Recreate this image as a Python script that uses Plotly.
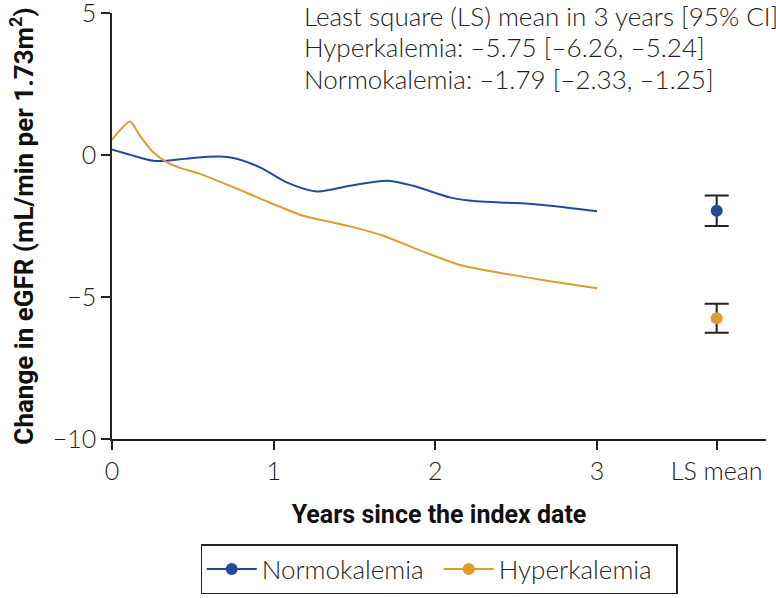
import plotly.graph_objects as go

# ---- data ----
normo_years = [0.0, 0.12, 0.255, 0.338, 0.50, 0.668, 0.75, 0.915, 1.08, 1.266, 1.472, 1.70, 1.863, 2.09, 2.255, 2.50, 2.71, 3.0]
normo_values = [0.2, 0.0, -0.2, -0.2, -0.1, -0.05, -0.1, -0.43, -0.96, -1.28, -1.08, -0.9, -1.08, -1.49, -1.63, -1.69, -1.78, -1.98]

hyper_years = [0.0, 0.111, 0.173, 0.255, 0.338, 0.42, 0.544, 0.75, 0.957, 1.163, 1.266, 1.472, 1.678, 1.884, 2.152, 2.40, 2.71, 3.0]
hyper_values = [0.54, 1.18, 0.68, 0.1, -0.25, -0.45, -0.66, -1.13, -1.63, -2.1, -2.25, -2.51, -2.84, -3.31, -3.87, -4.15, -4.44, -4.69]

ls_position = 3.74
normo_ls = -1.96
normo_ci = (-2.5, -1.42)
hyper_ls = -5.75
hyper_ci = (-6.26, -5.24)

x_tickvals = [0, 1, 2, 3, ls_position]
x_ticktext = ["0", "1", "2", "3", "LS mean"]
y_tickvals = [5, 0, -5, -10]
y_ticktext = ["5", "0", "\u22125", "\u221210"]

annotation_lines = [
    "Least square (LS) mean in 3 years [95% CI]",
    "Hyperkalemia: \u20135.75 [\u20136.26, \u20135.24]",
    "Normokalemia: \u20131.79 [\u20132.33, \u20131.25]",
]

BLUE = "#24499c"
ORANGE = "#e09a30"
LIGHT = dict(family="Lato, 'Open Sans', sans-serif", size=25, color="#222", weight=300)
BOLD = dict(family="Roboto, 'DejaVu Sans', sans-serif", size=25, color="#111", weight="bold")

fig = go.Figure()

fig.add_trace(go.Scatter(x=normo_years, y=normo_values, mode="lines",
                         line=dict(color=BLUE, width=2, shape="spline", smoothing=0.8),
                         showlegend=False, hoverinfo="skip"))
fig.add_trace(go.Scatter(x=hyper_years, y=hyper_values, mode="lines",
                         line=dict(color=ORANGE, width=2, shape="spline", smoothing=0.6),
                         showlegend=False, hoverinfo="skip"))

for name, val, ci, col in [("Normokalemia", normo_ls, normo_ci, BLUE),
                           ("Hyperkalemia", hyper_ls, hyper_ci, ORANGE)]:
    fig.add_trace(go.Scatter(
        x=[ls_position], y=[val], mode="lines+markers", name=name,
        marker=dict(color=col, size=12),
        line=dict(color=col, width=2),
        error_y=dict(type="data", symmetric=False,
                     array=[ci[1] - val], arrayminus=[val - ci[0]],
                     color="#222", thickness=2, width=12),
    ))

fig.update_xaxes(range=[0, 4.045], tickvals=x_tickvals, ticktext=x_ticktext,
                 showline=True, linecolor="#222", linewidth=1.5,
                 ticks="outside", ticklen=9, tickwidth=1.5, tickcolor="#222",
                 showgrid=False, zeroline=False, tickfont=LIGHT, automargin=False,
                 ticklabeloverflow="allow",
                 title=dict(text="Years since the index date", font=BOLD, standoff=22))
fig.update_yaxes(range=[-10, 5.005], tickvals=y_tickvals, ticktext=y_ticktext,
                 showline=True, linecolor="#222", linewidth=1.5,
                 ticks="outside", ticklen=9, tickwidth=1.5, tickcolor="#222",
                 showgrid=False, zeroline=False, tickfont=LIGHT, automargin=False,
                 ticklabeloverflow="allow",
                 title=dict(text="Change in eGFR (mL/min per 1.73m<sup>2</sup>)",
                            font=dict(BOLD, size=26), standoff=12))

for txt, yp in zip(annotation_lines, [0.993, 0.92, 0.846]):
    fig.add_annotation(text=txt, xref="paper", yref="paper", x=0.291, y=yp,
                       xanchor="left", yanchor="middle", showarrow=False,
                       font=dict(LIGHT, size=26))

fig.update_layout(
    width=776, height=598,
    margin=dict(l=112, r=10, t=13, b=159),
    plot_bgcolor="white", paper_bgcolor="white",
    legend=dict(orientation="h", x=0.5, xanchor="center",
                yref="container", y=0.0895, yanchor="top",
                bordercolor="#222", borderwidth=1.2, font=dict(LIGHT, size=26),
                itemwidth=50, entrywidth=172, tracegroupgap=0),
)

fig.write_html("out.html", config={"displayModeBar": False},
               post_script="document.body.style.margin='0';document.body.style.padding='0';")
